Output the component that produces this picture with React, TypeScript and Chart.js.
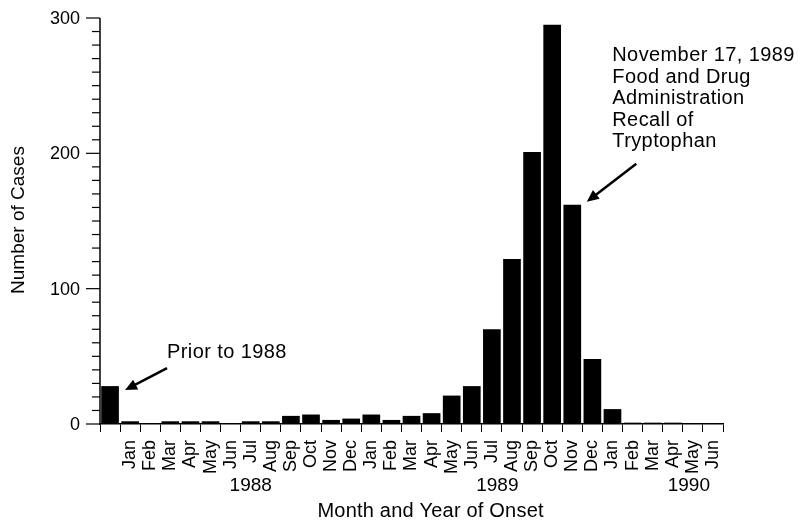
import { useEffect, useRef } from "react";
import { Chart, registerables } from "chart.js";

Chart.register(...registerables);

// ---- data ----
const monthLabels = [
  "",
  "Jan", "Feb", "Mar", "Apr", "May", "Jun", "Jul", "Aug", "Sep", "Oct", "Nov", "Dec",
  "Jan", "Feb", "Mar", "Apr", "May", "Jun", "Jul", "Aug", "Sep", "Oct", "Nov", "Dec",
  "Jan", "Feb", "Mar", "Apr", "May", "Jun",
];
const caseCounts = [
  28,
  2, 0, 2, 2, 2, 0, 2, 2, 6, 7, 3, 4,
  7, 3, 6, 8, 21, 28, 70, 122, 201, 295, 162, 48,
  11, 1, 1, 1, 0, 0,
];
const yMajorTicks = [0, 100, 200, 300];
const yearLabels = ["1988", "1989", "1990"];
const yearLabelIndex = [7, 19.27, 28.8];
const yTitle = "Number of Cases";
const xTitle = "Month and Year of Onset";
const priorNote = "Prior to 1988";
const recallNote = ["November 17, 1989", "Food and Drug", "Administration", "Recall of", "Tryptophan"];

const FONT = '"Liberation Sans", Arial, Helvetica, sans-serif';

function drawArrow(ctx: CanvasRenderingContext2D, x1: number, y1: number, x2: number, y2: number) {
  const ang = Math.atan2(y2 - y1, x2 - x1);
  const head = 12;
  const hw = 5.5;
  const bx = x2 - head * Math.cos(ang);
  const by = y2 - head * Math.sin(ang);
  ctx.save();
  ctx.strokeStyle = "#000";
  ctx.fillStyle = "#000";
  ctx.lineWidth = 2.5;
  ctx.beginPath();
  ctx.moveTo(x1, y1);
  ctx.lineTo(bx + 2 * Math.cos(ang), by + 2 * Math.sin(ang));
  ctx.stroke();
  ctx.beginPath();
  ctx.moveTo(x2, y2);
  ctx.lineTo(bx + hw * Math.sin(ang), by - hw * Math.cos(ang));
  ctx.lineTo(bx - hw * Math.sin(ang), by + hw * Math.cos(ang));
  ctx.closePath();
  ctx.fill();
  ctx.restore();
}

const extrasPlugin = {
  id: "extras",
  afterDraw(chart: any) {
    const ctx: any = chart.ctx;
    const xs = chart.scales.x;
    const ys = chart.scales.y;
    const area = chart.chartArea;
    ctx.save();
    ctx.strokeStyle = "#000";
    ctx.fillStyle = "#000";
    // y axis line
    ctx.lineWidth = 1.5;
    ctx.beginPath();
    ctx.moveTo(area.left, ys.getPixelForValue(300));
    ctx.lineTo(area.left, ys.getPixelForValue(0) + 0.75);
    ctx.stroke();
    // y ticks (major every 100, minor every 10)
    ctx.lineWidth = 1.2;
    for (let v = 0; v <= 300; v += 10) {
      const y = ys.getPixelForValue(v);
      const len = yMajorTicks.includes(v) ? 14 : 8;
      ctx.beginPath();
      ctx.moveTo(area.left - len, y);
      ctx.lineTo(area.left, y);
      ctx.stroke();
    }
    // y tick labels
    ctx.font = `18px ${FONT}`;
    ctx.textAlign = "right";
    ctx.textBaseline = "middle";
    yMajorTicks.forEach((v) => {
      ctx.fillText(String(v), area.left - 20, ys.getPixelForValue(v) + 1);
    });
    // y title
    ctx.font = `19px ${FONT}`;
    ctx.textAlign = "center";
    ctx.textBaseline = "alphabetic";
    ctx.save();
    ctx.translate(24, (ys.getPixelForValue(300) + ys.getPixelForValue(0)) / 2 - 1);
    ctx.rotate(-Math.PI / 2);
    ctx.fillText(yTitle, 0, 0);
    ctx.restore();
    // year labels
    yearLabels.forEach((t, i) => {
      ctx.fillText(t, xs.getPixelForValue(yearLabelIndex[i]), area.bottom + 67);
    });
    // x title
    ctx.font = `20px ${FONT}`;
    ctx.letterSpacing = "0.2px";
    ctx.fillText(xTitle, xs.getPixelForValue(15.95), area.bottom + 93);
    // annotations
    ctx.letterSpacing = "0.4px";
    ctx.textAlign = "left";
    const px = xs.getPixelForValue(0);
    const py = ys.getPixelForValue(caseCounts[0]);
    ctx.fillText(priorNote, px + 57, py - 28);
    drawArrow(ctx, px + 57, py - 18, px + 15, py + 4);
    const nx = xs.getPixelForValue(23);
    const ny = ys.getPixelForValue(caseCounts[23]);
    const top = ys.getPixelForValue(300);
    recallNote.forEach((line, i) => {
      ctx.fillText(line, nx + 40, top + 43 + i * 21.6);
    });
    ctx.letterSpacing = "0px";
    drawArrow(ctx, nx + 64, ny - 41, nx + 14.5, ny - 3);
    ctx.restore();
  },
};

export default function App() {
  const ref = useRef<HTMLCanvasElement | null>(null);
  useEffect(() => {
    if (!ref.current) return;
    const chart = new Chart(ref.current, {
      type: "bar",
      data: {
        labels: monthLabels,
        datasets: [
          {
            data: caseCounts,
            backgroundColor: "#000",
            borderWidth: 0,
            barPercentage: 0.88,
            categoryPercentage: 1,
          },
        ],
      },
      options: {
        animation: false,
        responsive: true,
        maintainAspectRatio: false,
        layout: { padding: { top: 18, right: 79, left: 0, bottom: 0 } },
        plugins: { legend: { display: false }, tooltip: { enabled: false } },
        scales: {
          x: {
            afterFit: (s: any) => {
              s.height = 97;
            },
            grid: {
              display: true,
              drawOnChartArea: false,
              drawTicks: true,
              tickLength: 8,
              color: "#000",
              lineWidth: 1,
            },
            border: { display: true, color: "#000", width: 1.5 },
            ticks: {
              autoSkip: false,
              maxRotation: 90,
              minRotation: 90,
              padding: 8,
              color: "#000",
              font: { family: FONT, size: 18 },
            },
          },
          y: {
            min: 0,
            max: 300,
            afterFit: (s: any) => {
              s.width = 100;
            },
            grid: { display: false, drawTicks: false },
            border: { display: false },
            ticks: { display: false, stepSize: 100, padding: 0 },
          },
        },
      },
      plugins: [extrasPlugin],
    });
    return () => chart.destroy();
  }, []);
  return (
    <div style={{ position: "absolute", left: 0, top: 0, width: 802, height: 521 }}>
      <canvas ref={ref} />
    </div>
  );
}
